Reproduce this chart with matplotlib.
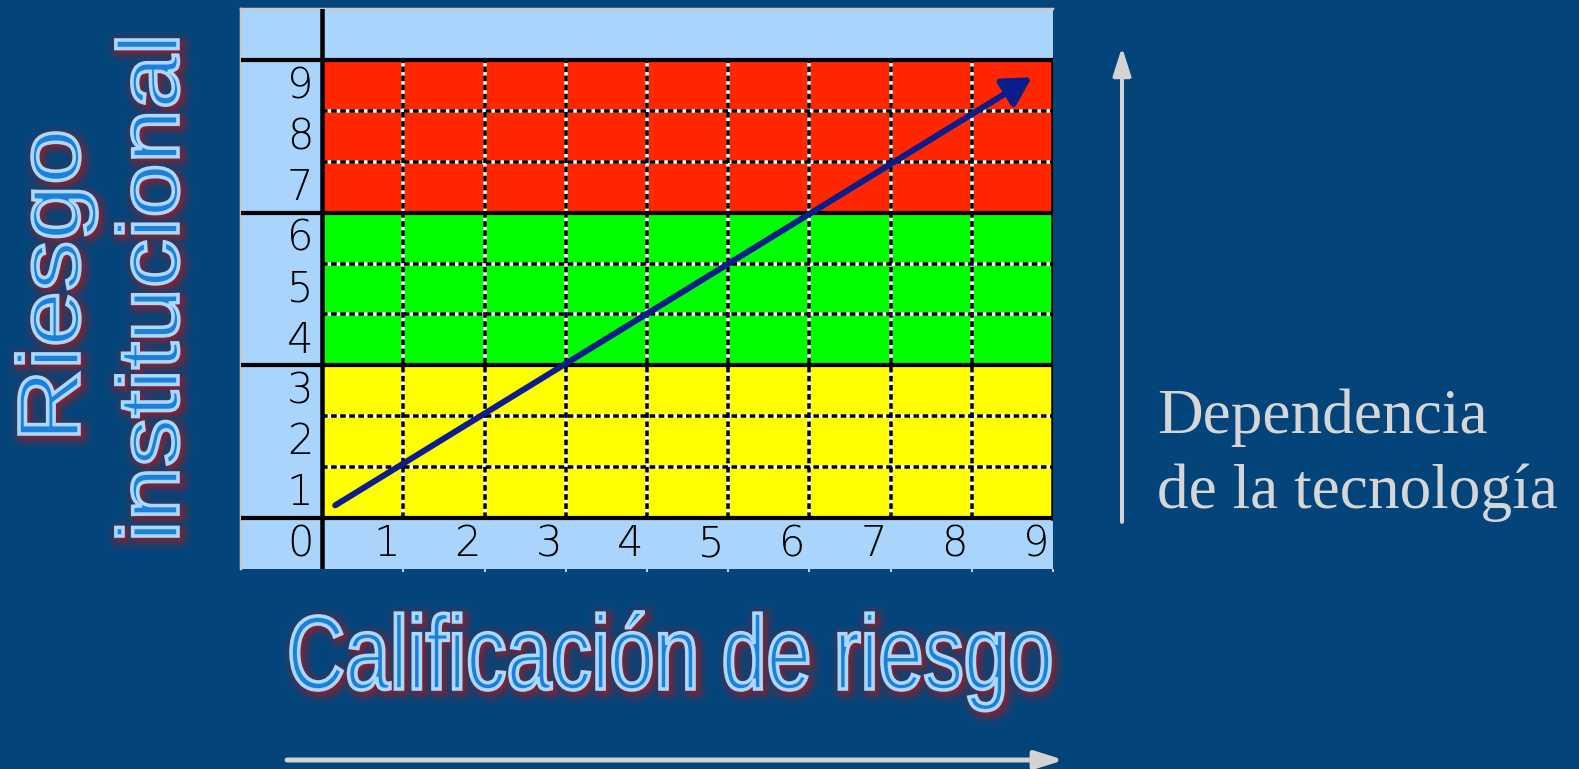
import matplotlib
matplotlib.use('Agg')
import matplotlib.pyplot as plt
from matplotlib import patches
from matplotlib.textpath import TextPath
from matplotlib.font_manager import FontProperties
from matplotlib.transforms import Affine2D, IdentityTransform

# values of the matrix
x_labels = [1, 2, 3, 4, 5, 6, 7, 8, 9]
y_labels = [1, 2, 3, 4, 5, 6, 7, 8, 9]
zone_bottom = [0, 3, 6]
zone_top = [3, 6, 9]
zone_colors = ['#ffff00', '#00ff00', '#ff2600']
trend_start = (0.16, 0.25)
trend_end = (8.74, 8.66)

x_title = 'Calificación de riesgo'
y_title = ['Riesgo', 'institucional']
side_text = ['Dependencia', 'de la tecnología']

BG = '#03457b'
FRAME = '#a9d5fc'
W, H = 1579, 769


def px(v):
    # pixels -> points at dpi 100
    return v * 0.72


def glow_text(fig, s, start, length, base, cap, vertical=False):
    fp = FontProperties(family='Liberation Sans')
    tp = TextPath((0, 0), s, size=100, prop=fp)
    cap100 = TextPath((0, 0), 'H', size=100, prop=fp).get_extents().y1
    ext = tp.get_extents()
    t = Affine2D().translate(-ext.x0, 0).scale(length / ext.width, cap / cap100)
    if vertical:
        t = t.rotate_deg(90).translate(base, H - start)
    else:
        t = t.translate(start, H - base)
    path = t.transform_path(tp)
    shadow = Affine2D().translate(3, -3).transform_path(path)
    for lw, a in [(22, 0.08), (17, 0.1), (12, 0.14), (8, 0.2), (4, 0.3)]:
        fig.add_artist(patches.PathPatch(shadow, fc='#a21c22', ec='#a21c22', lw=px(lw),
                                         alpha=a, joinstyle='round',
                                         transform=IdentityTransform()))
    fig.add_artist(patches.PathPatch(path, fc='#1c80da', ec='#aad8ff', lw=px(3.6),
                                     transform=IdentityTransform()))


fig = plt.figure(figsize=(W / 100, H / 100), dpi=100, facecolor=BG)
ax = fig.add_axes([241 / W, 1 - 569 / H, (1053 - 241) / W, (569 - 9) / H])
ax.set_xlim(-1, 9)
ax.set_ylim(-1, 10)
ax.set_facecolor(FRAME)
for side in ['bottom', 'right']:
    ax.spines[side].set_visible(False)
for side in ['top', 'left']:
    ax.spines[side].set_color('#c8c8c8')
    ax.spines[side].set_linewidth(px(2.5))
ax.set_xticks(x_labels)
ax.set_yticks([])
ax.tick_params(axis='x', direction='out', length=2, width=1.5, color='#c8c8c8', labelbottom=False)

for lo, hi, c in zip(zone_bottom, zone_top, zone_colors):
    ax.add_patch(patches.Rectangle((0, lo), 9, hi - lo, fc=c, ec='none', zorder=1))

# dashed inner grid
for v in y_labels[:-1]:
    if v in zone_bottom:
        continue
    ax.plot([0, 9], [v, v], color='white', lw=px(3.5), solid_capstyle='butt', zorder=2)
    ax.plot([0, 9], [v, v], color='black', lw=px(3.5), dashes=(1.6, 1.0), zorder=3)
for v in x_labels[:-1]:
    ax.plot([v, v], [0, 9], color='white', lw=px(3.5), solid_capstyle='butt', zorder=2)
    ax.plot([v, v], [0, 9], color='black', lw=px(3.5), dashes=(1.6, 1.0), zorder=3)

# thick borders
for v in zone_bottom + [zone_top[-1]]:
    ax.plot([-1, 9], [v, v], color='black', lw=px(4.2), zorder=4)
ax.plot([0, 0], [-1, 10], color='black', lw=px(4.5), zorder=4)
ax.plot([9, 9], [0, 9], color='black', lw=px(4.5), zorder=4)

# numbers
num_font = dict(family='DejaVu Sans', fontsize=30, fontweight='light', color='black',
                va='baseline', zorder=5)
for k in y_labels:
    ax.text(-0.11, k - 0.75, str(k), ha='right', **num_font)
ax.text(-0.11, -0.75, '0', ha='right', **num_font)
for k in x_labels:
    ax.text(k - 0.21, -0.75, str(k), ha='center', **num_font)

# trend arrow
ax.add_patch(patches.FancyArrowPatch(trend_start, trend_end,
                                     arrowstyle='-|>,head_length=0.5,head_width=0.28',
                                     mutation_scale=34, color='#0b1c8c', lw=px(6),
                                     shrinkA=0, shrinkB=0, zorder=6))

# titles
glow_text(fig, x_title, 291, 759, 689, 72)
glow_text(fig, y_title[0], 434, 301, 79, 60, vertical=True)
glow_text(fig, y_title[1], 536, 496, 178, 59, vertical=True)

# side arrows and text
gray = '#d3d3d3'
fig.add_artist(patches.FancyArrowPatch((1122, H - 522), (1122, H - 47),
                                       arrowstyle='-|>,head_length=0.85,head_width=0.27',
                                       mutation_scale=20, color=gray, lw=px(4),
                                       shrinkA=0, shrinkB=0, transform=IdentityTransform()))
fig.add_artist(patches.FancyArrowPatch((287, H - 760), (1064, H - 760),
                                       arrowstyle='-|>,head_length=0.85,head_width=0.27',
                                       mutation_scale=20, color=gray, lw=px(5),
                                       shrinkA=0, shrinkB=0, transform=IdentityTransform()))
fig.text(1157 / W, 1 - 433 / H, side_text[0], family='Liberation Serif', fontsize=45.5,
         color='#d6d6d6', ha='left', va='baseline')
fig.text(1157 / W, 1 - 508 / H, side_text[1], family='Liberation Serif', fontsize=45.5,
         color='#d6d6d6', ha='left', va='baseline')

fig.savefig('out.png', dpi=100, facecolor=BG)
